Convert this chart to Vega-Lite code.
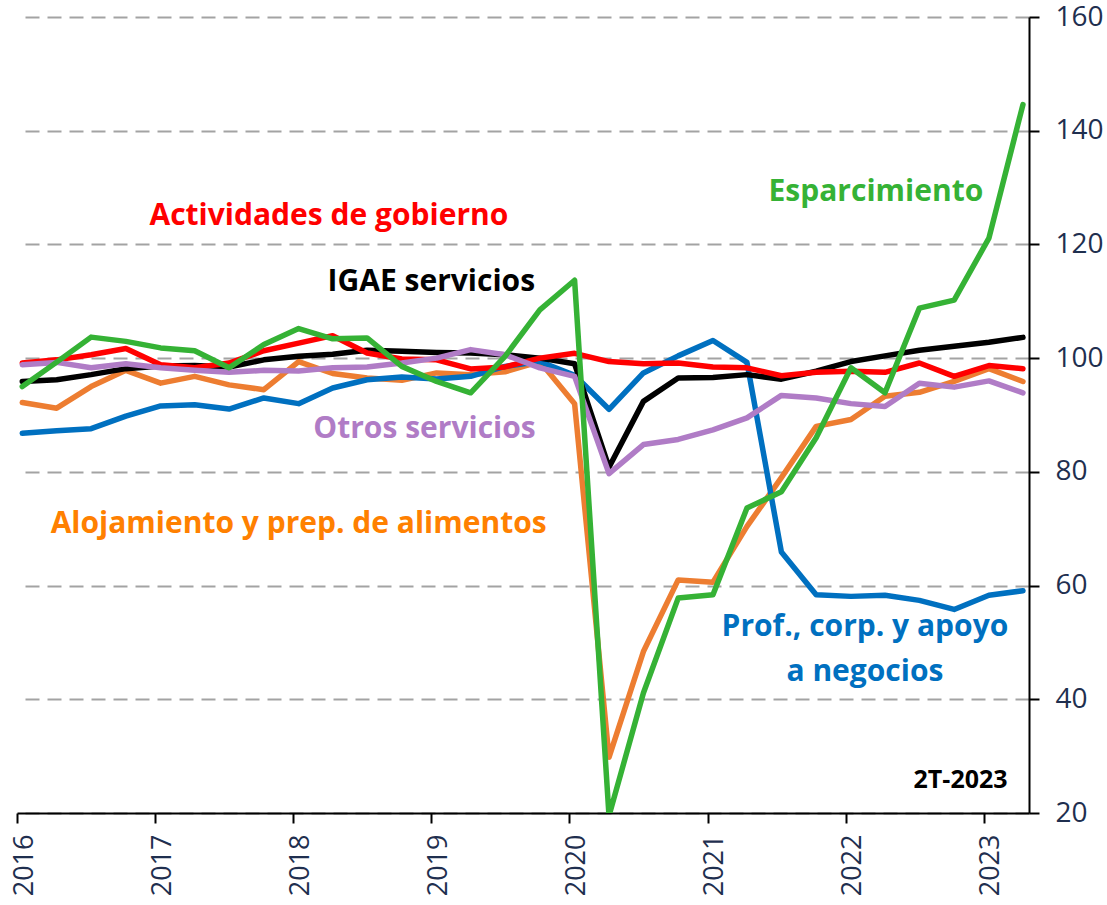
{
"$schema": "https://vega.github.io/schema/vega-lite/v6.json",
"width": 1012,
"height": 796,
"autosize": {"type": "none"},
"padding": {"left": 17, "top": 17, "right": 78, "bottom": 92},
"config": {"view": {"stroke": null}, "font": "Open Sans"},
"datasets": {
"series": [
{"d":"2016-01-15","s":"Alojamiento","v":92.2},{"d":"2016-04-15","s":"Alojamiento","v":91.2},{"d":"2016-07-15","s":"Alojamiento","v":95.0},{"d":"2016-10-15","s":"Alojamiento","v":97.85},
{"d":"2017-01-15","s":"Alojamiento","v":95.6},{"d":"2017-04-15","s":"Alojamiento","v":96.8},{"d":"2017-07-15","s":"Alojamiento","v":95.3},{"d":"2017-10-15","s":"Alojamiento","v":94.45},
{"d":"2018-01-15","s":"Alojamiento","v":99.4},{"d":"2018-04-15","s":"Alojamiento","v":97.3},{"d":"2018-07-15","s":"Alojamiento","v":96.5},{"d":"2018-10-15","s":"Alojamiento","v":96.1},
{"d":"2019-01-15","s":"Alojamiento","v":97.4},{"d":"2019-04-15","s":"Alojamiento","v":97.1},{"d":"2019-07-15","s":"Alojamiento","v":97.6},{"d":"2019-10-15","s":"Alojamiento","v":99.4},
{"d":"2020-01-15","s":"Alojamiento","v":92.0},{"d":"2020-04-15","s":"Alojamiento","v":29.8},{"d":"2020-07-15","s":"Alojamiento","v":48.4},{"d":"2020-10-15","s":"Alojamiento","v":61.0},
{"d":"2021-01-15","s":"Alojamiento","v":60.6},{"d":"2021-04-15","s":"Alojamiento","v":70.4},{"d":"2021-07-15","s":"Alojamiento","v":79.0},{"d":"2021-10-15","s":"Alojamiento","v":88.0},
{"d":"2022-01-15","s":"Alojamiento","v":89.2},{"d":"2022-04-15","s":"Alojamiento","v":93.3},{"d":"2022-07-15","s":"Alojamiento","v":94.0},{"d":"2022-10-15","s":"Alojamiento","v":95.9},
{"d":"2023-01-15","s":"Alojamiento","v":98.15},{"d":"2023-04-15","s":"Alojamiento","v":95.9},

{"d":"2016-01-15","s":"Profesionales","v":86.8},{"d":"2016-04-15","s":"Profesionales","v":87.25},{"d":"2016-07-15","s":"Profesionales","v":87.6},{"d":"2016-10-15","s":"Profesionales","v":89.8},
{"d":"2017-01-15","s":"Profesionales","v":91.6},{"d":"2017-04-15","s":"Profesionales","v":91.8},{"d":"2017-07-15","s":"Profesionales","v":91.05},{"d":"2017-10-15","s":"Profesionales","v":93.0},
{"d":"2018-01-15","s":"Profesionales","v":92.0},{"d":"2018-04-15","s":"Profesionales","v":94.75},{"d":"2018-07-15","s":"Profesionales","v":96.2},{"d":"2018-10-15","s":"Profesionales","v":96.7},
{"d":"2019-01-15","s":"Profesionales","v":96.35},{"d":"2019-04-15","s":"Profesionales","v":96.8},{"d":"2019-07-15","s":"Profesionales","v":98.55},{"d":"2019-10-15","s":"Profesionales","v":99.4},
{"d":"2020-01-15","s":"Profesionales","v":97.0},{"d":"2020-04-15","s":"Profesionales","v":91.0},{"d":"2020-07-15","s":"Profesionales","v":97.4},{"d":"2020-10-15","s":"Profesionales","v":100.4},
{"d":"2021-01-15","s":"Profesionales","v":103.1},{"d":"2021-04-15","s":"Profesionales","v":99.25},{"d":"2021-07-15","s":"Profesionales","v":65.9},{"d":"2021-10-15","s":"Profesionales","v":58.4},
{"d":"2022-01-15","s":"Profesionales","v":58.1},{"d":"2022-04-15","s":"Profesionales","v":58.3},{"d":"2022-07-15","s":"Profesionales","v":57.4},{"d":"2022-10-15","s":"Profesionales","v":55.8},
{"d":"2023-01-15","s":"Profesionales","v":58.3},{"d":"2023-04-15","s":"Profesionales","v":59.1},

{"d":"2016-01-15","s":"IGAE","v":95.9},{"d":"2016-04-15","s":"IGAE","v":96.2},{"d":"2016-07-15","s":"IGAE","v":97.1},{"d":"2016-10-15","s":"IGAE","v":98.15},
{"d":"2017-01-15","s":"IGAE","v":98.6},{"d":"2017-04-15","s":"IGAE","v":98.7},{"d":"2017-07-15","s":"IGAE","v":98.45},{"d":"2017-10-15","s":"IGAE","v":99.7},
{"d":"2018-01-15","s":"IGAE","v":100.35},{"d":"2018-04-15","s":"IGAE","v":100.7},{"d":"2018-07-15","s":"IGAE","v":101.4},{"d":"2018-10-15","s":"IGAE","v":101.2},
{"d":"2019-01-15","s":"IGAE","v":101.0},{"d":"2019-04-15","s":"IGAE","v":100.9},{"d":"2019-07-15","s":"IGAE","v":100.6},{"d":"2019-10-15","s":"IGAE","v":100.0},
{"d":"2020-01-15","s":"IGAE","v":99.0},{"d":"2020-04-15","s":"IGAE","v":80.8},{"d":"2020-07-15","s":"IGAE","v":92.4},{"d":"2020-10-15","s":"IGAE","v":96.5},
{"d":"2021-01-15","s":"IGAE","v":96.6},{"d":"2021-04-15","s":"IGAE","v":97.1},{"d":"2021-07-15","s":"IGAE","v":96.3},{"d":"2021-10-15","s":"IGAE","v":97.7},
{"d":"2022-01-15","s":"IGAE","v":99.4},{"d":"2022-04-15","s":"IGAE","v":100.4},{"d":"2022-07-15","s":"IGAE","v":101.4},{"d":"2022-10-15","s":"IGAE","v":102.1},
{"d":"2023-01-15","s":"IGAE","v":102.8},{"d":"2023-04-15","s":"IGAE","v":103.65},

{"d":"2016-01-15","s":"Gobierno","v":99.15},{"d":"2016-04-15","s":"Gobierno","v":99.7},{"d":"2016-07-15","s":"Gobierno","v":100.6},{"d":"2016-10-15","s":"Gobierno","v":101.7},
{"d":"2017-01-15","s":"Gobierno","v":98.85},{"d":"2017-04-15","s":"Gobierno","v":98.3},{"d":"2017-07-15","s":"Gobierno","v":99.15},{"d":"2017-10-15","s":"Gobierno","v":101.3},
{"d":"2018-01-15","s":"Gobierno","v":102.65},{"d":"2018-04-15","s":"Gobierno","v":103.95},{"d":"2018-07-15","s":"Gobierno","v":100.9},{"d":"2018-10-15","s":"Gobierno","v":99.85},
{"d":"2019-01-15","s":"Gobierno","v":99.7},{"d":"2019-04-15","s":"Gobierno","v":98.1},{"d":"2019-07-15","s":"Gobierno","v":98.45},{"d":"2019-10-15","s":"Gobierno","v":100.0},
{"d":"2020-01-15","s":"Gobierno","v":100.85},{"d":"2020-04-15","s":"Gobierno","v":99.4},{"d":"2020-07-15","s":"Gobierno","v":99.0},{"d":"2020-10-15","s":"Gobierno","v":99.15},
{"d":"2021-01-15","s":"Gobierno","v":98.45},{"d":"2021-04-15","s":"Gobierno","v":98.3},{"d":"2021-07-15","s":"Gobierno","v":96.9},{"d":"2021-10-15","s":"Gobierno","v":97.5},
{"d":"2022-01-15","s":"Gobierno","v":97.7},{"d":"2022-04-15","s":"Gobierno","v":97.5},{"d":"2022-07-15","s":"Gobierno","v":99.15},{"d":"2022-10-15","s":"Gobierno","v":96.8},
{"d":"2023-01-15","s":"Gobierno","v":98.7},{"d":"2023-04-15","s":"Gobierno","v":98.15},

{"d":"2016-01-15","s":"Otros","v":98.85},{"d":"2016-04-15","s":"Otros","v":99.25},{"d":"2016-07-15","s":"Otros","v":98.3},{"d":"2016-10-15","s":"Otros","v":99.0},
{"d":"2017-01-15","s":"Otros","v":98.3},{"d":"2017-04-15","s":"Otros","v":97.85},{"d":"2017-07-15","s":"Otros","v":97.5},{"d":"2017-10-15","s":"Otros","v":97.85},
{"d":"2018-01-15","s":"Otros","v":97.75},{"d":"2018-04-15","s":"Otros","v":98.3},{"d":"2018-07-15","s":"Otros","v":98.45},{"d":"2018-10-15","s":"Otros","v":99.15},
{"d":"2019-01-15","s":"Otros","v":100.0},{"d":"2019-04-15","s":"Otros","v":101.5},{"d":"2019-07-15","s":"Otros","v":100.6},{"d":"2019-10-15","s":"Otros","v":98.3},
{"d":"2020-01-15","s":"Otros","v":96.8},{"d":"2020-04-15","s":"Otros","v":79.7},{"d":"2020-07-15","s":"Otros","v":84.8},{"d":"2020-10-15","s":"Otros","v":85.7},
{"d":"2021-01-15","s":"Otros","v":87.4},{"d":"2021-04-15","s":"Otros","v":89.5},{"d":"2021-07-15","s":"Otros","v":93.45},{"d":"2021-10-15","s":"Otros","v":93.0},
{"d":"2022-01-15","s":"Otros","v":92.0},{"d":"2022-04-15","s":"Otros","v":91.5},{"d":"2022-07-15","s":"Otros","v":95.6},{"d":"2022-10-15","s":"Otros","v":94.9},
{"d":"2023-01-15","s":"Otros","v":96.0},{"d":"2023-04-15","s":"Otros","v":93.9},

{"d":"2016-01-15","s":"Esparcimiento","v":95.0},{"d":"2016-04-15","s":"Esparcimiento","v":99.3},{"d":"2016-07-15","s":"Esparcimiento","v":103.7},{"d":"2016-10-15","s":"Esparcimiento","v":102.95},
{"d":"2017-01-15","s":"Esparcimiento","v":101.8},{"d":"2017-04-15","s":"Esparcimiento","v":101.3},{"d":"2017-07-15","s":"Esparcimiento","v":98.3},{"d":"2017-10-15","s":"Esparcimiento","v":102.4},
{"d":"2018-01-15","s":"Esparcimiento","v":105.2},{"d":"2018-04-15","s":"Esparcimiento","v":103.4},{"d":"2018-07-15","s":"Esparcimiento","v":103.55},{"d":"2018-10-15","s":"Esparcimiento","v":98.55},
{"d":"2019-01-15","s":"Esparcimiento","v":95.9},{"d":"2019-04-15","s":"Esparcimiento","v":93.9},{"d":"2019-07-15","s":"Esparcimiento","v":100.3},{"d":"2019-10-15","s":"Esparcimiento","v":108.5},
{"d":"2020-01-15","s":"Esparcimiento","v":113.7},{"d":"2020-04-15","s":"Esparcimiento","v":19.5},{"d":"2020-07-15","s":"Esparcimiento","v":41.1},{"d":"2020-10-15","s":"Esparcimiento","v":57.8},
{"d":"2021-01-15","s":"Esparcimiento","v":58.4},{"d":"2021-04-15","s":"Esparcimiento","v":73.65},{"d":"2021-07-15","s":"Esparcimiento","v":76.5},{"d":"2021-10-15","s":"Esparcimiento","v":86.0},
{"d":"2022-01-15","s":"Esparcimiento","v":98.3},{"d":"2022-04-15","s":"Esparcimiento","v":93.9},{"d":"2022-07-15","s":"Esparcimiento","v":108.8},{"d":"2022-10-15","s":"Esparcimiento","v":110.2},
{"d":"2023-01-15","s":"Esparcimiento","v":121.1},{"d":"2023-04-15","s":"Esparcimiento","v":144.6}
],
"labels": [
{"s":"Esparcimiento","t":"Esparcimiento","d":"2022-03-22","v":127.6},
{"s":"Gobierno","t":"Actividades de gobierno","d":"2018-04-05","v":123.35},
{"s":"IGAE","t":"IGAE servicios","d":"2019-01-01","v":111.75},
{"s":"Otros","t":"Otros servicios","d":"2018-12-14","v":86.0},
{"s":"Alojamiento","t":"Alojamiento y prep. de alimentos","d":"2018-01-15","v":69.25},
{"s":"Profesionales","t":"Prof., corp. y apoyo","d":"2022-02-21","v":51.2},
{"s":"Profesionales","t":"a  negocios","d":"2022-02-21","v":43.3}
],
"note": [
{"t":"2T-2023","d":"2022-11-01","v":24.45}
]
},
"encoding": {
"x": {"field": "d", "type": "temporal",
"scale": {"domain": [{"year": 2016, "month": 1, "date": 1}, {"year": 2023, "month": 5, "date": 1}]},
"axis": {"orient": "bottom", "format": "%Y", "tickCount": {"interval": "year", "step": 1}, "labelAngle": -90, "labelFont": "Open Sans", "labelFontSize": 27, "labelColor": "#1f2f4f", "labelPadding": 11, "labelOffset": 7, "labelFlush": false, "labelOverlap": false, "labelBound": false, "domainColor": "#000000", "domainWidth": 2, "tickColor": "#000000", "tickWidth": 2, "tickSize": 10, "grid": false, "title": null, "zindex": 0}},
"y": {"field": "v", "type": "quantitative",
"scale": {"domain": [20, 160], "nice": false, "zero": false},
"axis": {"orient": "right", "grid": true, "values": [20, 40, 60, 80, 100, 120, 140, 160], "gridColor": "#a3a3a3", "gridWidth": 2, "gridDash": [14, 8], "labelFont": "Open Sans", "labelFontSize": 28, "labelColor": "#1f2f4f", "labelPadding": 16, "labelFlush": false, "labelBound": false, "domainColor": "#000000", "domainWidth": 2, "tickColor": "#000000", "tickWidth": 2, "tickSize": 10, "title": null, "zindex": 0}}
},
"layer": [
{
"data": {"name": "series"},
"mark": {"type": "line", "strokeWidth": 5.5, "strokeCap": "round", "strokeJoin": "round", "clip": true},
"encoding": {
"color": {"field": "s", "type": "nominal",
"scale": {"domain": ["Alojamiento", "Profesionales", "IGAE", "Gobierno", "Otros", "Esparcimiento"], "range": ["#ed7d31", "#0070c0", "#000000", "#ff0000", "#b07cc6", "#35b235"]},
"legend": null}
}
},
{
"data": {"name": "labels"},
"mark": {"type": "text", "font": "Open Sans", "fontWeight": "bold", "fontSize": 30, "align": "center", "baseline": "alphabetic"},
"encoding": {
"text": {"field": "t"},
"color": {"field": "s", "type": "nominal",
"scale": {"domain": ["Alojamiento", "Profesionales", "IGAE", "Gobierno", "Otros", "Esparcimiento"], "range": ["#ff8000", "#0070c0", "#000000", "#ff0000", "#b07cc6", "#35b235"]},
"legend": null}
}
},
{
"data": {"name": "note"},
"mark": {"type": "text", "font": "Open Sans", "fontWeight": "bold", "fontSize": 25, "align": "center", "baseline": "alphabetic", "color": "#000000"},
"encoding": {
"text": {"field": "t"}
}
}
],
"resolve": {"scale": {"color": "independent"}}
}
